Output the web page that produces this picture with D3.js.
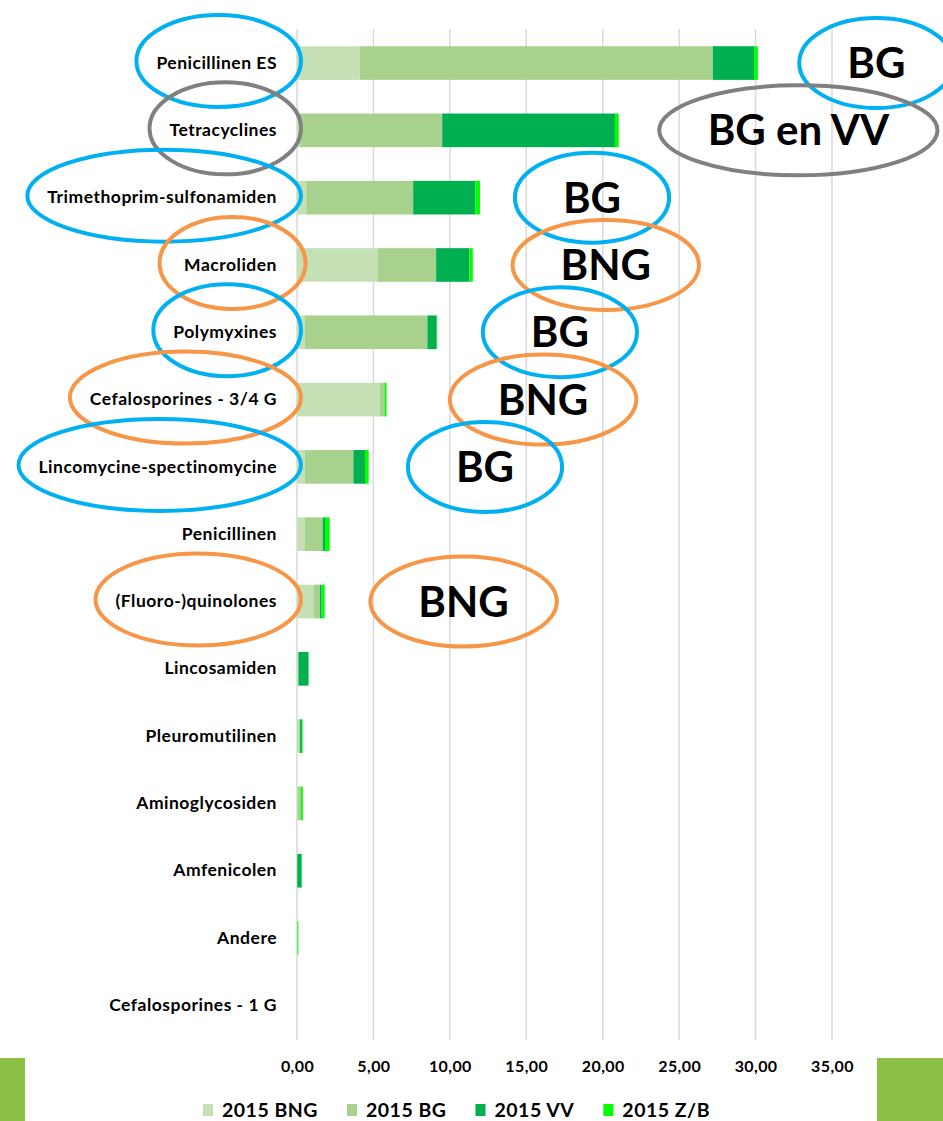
<!DOCTYPE html>
<html>
<head>
<meta charset="utf-8">
<script src="https://cdn.jsdelivr.net/npm/d3@7"></script>
<style>
  body { margin: 0; background: #fff; }
  text { font-family: Lato, "Open Sans", sans-serif; font-weight: bold; }
</style>
</head>
<body>
<script>

var categories = ["Penicillinen ES", "Tetracyclines", "Trimethoprim-sulfonamiden", "Macroliden",
  "Polymyxines", "Cefalosporines - 3/4 G", "Lincomycine-spectinomycine", "Penicillinen",
  "(Fluoro-)quinolones", "Lincosamiden", "Pleuromutilinen", "Aminoglycosiden",
  "Amfenicolen", "Andere", "Cefalosporines - 1 G"];

var seriesNames = ["2015 BNG", "2015 BG", "2015 VV", "2015 Z/B"];
var bng = [4.10, 0.20, 0.60, 5.26, 0.50, 5.39, 0.50, 0.52, 1.07, 0.05, 0.10, 0.05, 0.00, 0.00, 0.00];
var bg  = [23.10, 9.30, 7.00, 3.84, 8.03, 0.33, 3.19, 1.16, 0.43, 0.05, 0.10, 0.20, 0.02, 0.03, 0.00];
var vv  = [2.70, 11.30, 4.07, 2.18, 0.61, 0.02, 0.76, 0.15, 0.11, 0.65, 0.12, 0.00, 0.28, 0.00, 0.00];
var zb  = [0.25, 0.25, 0.30, 0.22, 0.03, 0.12, 0.24, 0.31, 0.20, 0.02, 0.05, 0.13, 0.03, 0.06, 0.00];
var ticks = [0, 5, 10, 15, 20, 25, 30, 35];

// annotations: category, tag, ring colour, x position of the tag (in axis units)
var noteCats = ["Penicillinen ES", "Tetracyclines", "Trimethoprim-sulfonamiden", "Macroliden",
  "Polymyxines", "Cefalosporines - 3/4 G", "Lincomycine-spectinomycine", "(Fluoro-)quinolones"];
var noteTags = ["BG", "BG en VV", "BG", "BNG", "BG", "BNG", "BG", "BNG"];
var noteKind = ["blue", "grey", "blue", "orange", "blue", "orange", "blue", "orange"];
var noteAt = [37.9, 32.8, 19.3, 20.2, 17.2, 16.1, 12.3, 10.9];

var colors = ["#C5E0B4", "#A9D18E", "#00B050", "#00FF00"];
var ring = { blue: "#00B0F0", grey: "#808080", orange: "#F79646" };

var W = 943, H = 1121;
var svg = d3.select("body").append("svg").attr("width", W).attr("height", H);

var x = d3.scaleLinear().domain([0, 35]).range([297, 832]);
var y = d3.scaleBand().domain(categories).range([29.4, 1039]).paddingInner(0.5).paddingOuter(0.25);

var rows = categories.map(function(c, i) {
  return { cat: c, "2015 BNG": bng[i], "2015 BG": bg[i], "2015 VV": vv[i], "2015 Z/B": zb[i] };
});
var stacked = d3.stack().keys(seriesNames)(rows);

// gridlines
svg.append("g").selectAll("line")
  .data(ticks)
  .enter().append("line")
  .attr("x1", function(d) { return x(d); })
  .attr("x2", function(d) { return x(d); })
  .attr("y1", 29)
  .attr("y2", 1040)
  .style("stroke", "#d9d9d9")
  .style("stroke-width", 1.5);

// bars
svg.append("g").selectAll("g")
  .data(stacked)
  .enter().append("g")
  .attr("fill", function(d, i) { return colors[i]; })
  .selectAll("rect")
  .data(function(d) { return d; })
  .enter().append("rect")
  .attr("x", function(d) { return x(d[0]); })
  .attr("width", function(d) { return Math.max(0, x(d[1]) - x(d[0])); })
  .attr("y", function(d) { return y(d.data.cat); })
  .attr("height", y.bandwidth());

// value axis labels
var xAxis = d3.axisBottom(x).tickValues(ticks).tickSize(0)
  .tickFormat(function(d) { return d3.format(".2f")(d).replace(".", ","); });
var gx = svg.append("g").attr("transform", "translate(0,1072)").call(xAxis);
gx.select(".domain").remove();
gx.selectAll("text").attr("y", 0).attr("dy", 0)
  .style("font-size", "16px").style("letter-spacing", "0.4px").style("fill", "#000")
  .style("font-family", "Lato, sans-serif").style("font-weight", "bold");

// category labels
var yAxis = d3.axisLeft(y).tickSize(0).tickPadding(20);
var gy = svg.append("g").attr("transform", "translate(297,0)").call(yAxis);
gy.select(".domain").remove();
gy.selectAll("text").style("font-size", "17.5px").style("letter-spacing", "0.5px").style("fill", "#000")
  .style("font-family", "Lato, sans-serif").style("font-weight", "bold");

// rings round the labels
var labelBox = {};
gy.selectAll(".tick").each(function(d) {
  labelBox[d] = d3.select(this).select("text").node().getBBox();
});

var notes = svg.append("g");
noteCats.forEach(function(c, i) {
  var b = labelBox[c];
  var cy = y(c) + y.bandwidth() / 2;
  var lx = 297 + b.x + b.width / 2 + 2;
  notes.append("ellipse")
    .attr("cx", lx).attr("cy", cy - 2)
    .attr("rx", Math.max(73, b.width / 2 + 22)).attr("ry", 46)
    .style("fill", "none").style("stroke", ring[noteKind[i]]).style("stroke-width", 4);

  var t = notes.append("text")
    .attr("x", x(noteAt[i])).attr("y", cy)
    .attr("text-anchor", "middle").attr("dy", "0.36em")
    .style("font-size", "42px").text(noteTags[i]);
  var tw = t.node().getBBox().width;
  notes.insert("ellipse", "text")
    .attr("cx", x(noteAt[i])).attr("cy", cy)
    .attr("rx", Math.max(71, tw / 2 + 48)).attr("ry", 45)
    .style("fill", "none").style("stroke", ring[noteKind[i]]).style("stroke-width", 4);
});

// legend
var legend = svg.append("g").attr("transform", "translate(203,1117)");
var lx = 0;
seriesNames.forEach(function(s, i) {
  var g = legend.append("g").attr("transform", "translate(" + lx + ",0)");
  g.append("rect").attr("x", 0).attr("y", -13).attr("width", 10).attr("height", 12).attr("fill", colors[i]);
  var t = g.append("text").attr("x", 19).attr("y", 0)
    .style("font-size", "19.5px").style("letter-spacing", "0.5px").text(s);
  lx += 19 + t.node().getComputedTextLength() + 29;
});

// green corner blocks
svg.append("rect").attr("x", 0).attr("y", 1058).attr("width", 25).attr("height", 63).attr("fill", "#8DBE45");
svg.append("rect").attr("x", 877).attr("y", 1058).attr("width", 66).attr("height", 63).attr("fill", "#8DBE45");

</script>
</body>
</html>
